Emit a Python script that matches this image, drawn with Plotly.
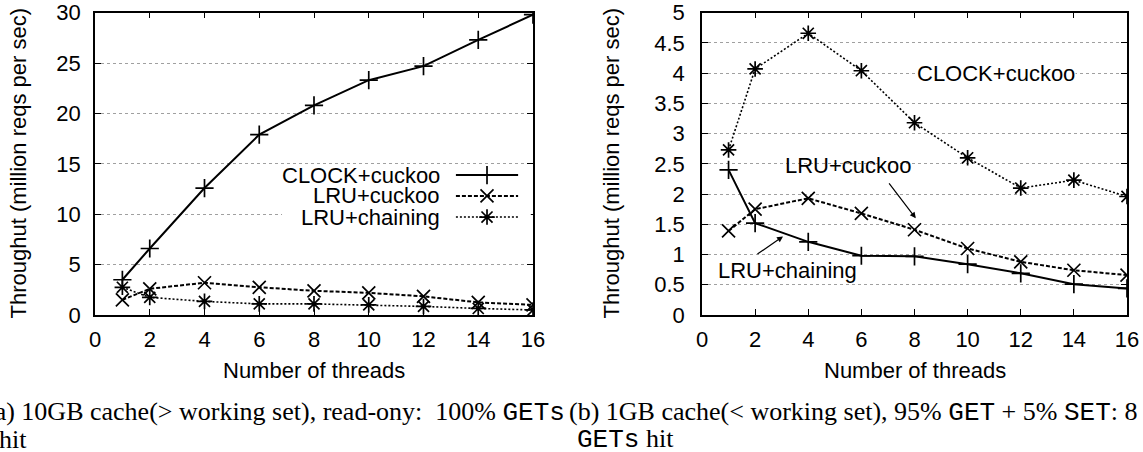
import plotly.graph_objects as go

# ---------------- data ----------------
threads = [1, 2, 4, 6, 8, 10, 12, 14, 16]

# (a) 10GB cache, read-only
a_clock_cuckoo = [3.5, 6.6, 12.6, 17.9, 20.8, 23.3, 24.7, 27.3, 29.8]
a_lru_cuckoo = [1.5, 2.6, 3.2, 2.75, 2.4, 2.2, 1.85, 1.25, 1.0]
a_lru_chaining = [2.75, 1.75, 1.35, 1.1, 1.1, 1.0, 0.85, 0.65, 0.5]

# (b) 1GB cache, 95% GET + 5% SET (series as labelled in the panel)
b_lru_chaining = [2.4, 1.52, 1.21, 0.98, 0.97, 0.84, 0.69, 0.51, 0.44]
b_lru_cuckoo = [1.39, 1.75, 1.93, 1.68, 1.41, 1.10, 0.88, 0.74, 0.66]
b_clock_cuckoo = [2.73, 4.07, 4.66, 4.04, 3.18, 2.60, 2.10, 2.23, 1.96]

x_ticks = [0, 2, 4, 6, 8, 10, 12, 14, 16]
a_y_ticks = [0, 5, 10, 15, 20, 25, 30]
b_y_ticks = [0, 0.5, 1, 1.5, 2, 2.5, 3, 3.5, 4, 4.5, 5]
b_y_ticktext = ["0", "0.5", "1", "1.5", "2", "2.5", "3", "3.5", "4", "4.5", "5"]

legend_names = ["CLOCK+cuckoo", "LRU+cuckoo", "LRU+chaining"]

x_title = "Number of threads"
y_title = "Throughut (million reqs per sec)"

# ---------------- styles ----------------
W, H = 1143, 452
FONT = "Liberation Sans, Arial, sans-serif"
SERIF = "Liberation Serif, Times New Roman, serif"
MONO = "Liberation Mono, Courier New, monospace"
FS = 22
MS = 13

styles = [
    dict(dash="solid", width=2.0, symbol="cross-thin-open"),
    dict(dash="4px,2px", width=2.0, symbol="x-thin-open"),
    dict(dash="2px,2px", width=1.6, symbol="asterisk-open"),
]

def px_x(p):
    return p / W

def px_y(p):
    return (H - p) / H

L_DOM = [px_x(95), px_x(533)]
R_DOM = [px_x(702), px_x(1127)]
Y_DOM = [px_y(315), px_y(12.7)]

fig = go.Figure()

def add_series(xa, ya, y, st):
    fig.add_trace(go.Scatter(
        x=threads, y=y, xaxis=xa, yaxis=ya, mode="lines+markers",
        line=dict(color="black", width=st["width"], dash=st["dash"]),
        marker=dict(symbol=st["symbol"], size=MS, color="black",
                    line=dict(color="black", width=1.7)),
        showlegend=False, hoverinfo="skip"))

add_series("x", "y", a_clock_cuckoo, styles[0])
add_series("x", "y", a_lru_cuckoo, styles[1])
add_series("x", "y", a_lru_chaining, styles[2])

add_series("x2", "y2", b_lru_chaining, styles[0])
add_series("x2", "y2", b_lru_cuckoo, styles[1])
add_series("x2", "y2", b_clock_cuckoo, styles[2])

# gnuplot-style key (text, then sample) drawn on an overlay subplot of panel (a)
# white key box hiding the gridlines
fig.add_trace(go.Scatter(
    x=[0.427, 0.995, 0.995, 0.427, 0.427], y=[0.294, 0.294, 0.49, 0.49, 0.294],
    xaxis="x3", yaxis="y3", mode="lines", fill="toself", fillcolor="white",
    line=dict(width=0, color="white"), showlegend=False, hoverinfo="skip"))

leg_rows = [0.463, 0.394, 0.324]
for i, st in enumerate(styles):
    fig.add_trace(go.Scatter(
        x=[0.824, 0.966], y=[leg_rows[i]] * 2, xaxis="x3", yaxis="y3",
        mode="lines", line=dict(color="black", width=st["width"], dash=st["dash"]),
        showlegend=False, hoverinfo="skip"))
    fig.add_trace(go.Scatter(
        x=[0.895], y=[leg_rows[i]], xaxis="x3", yaxis="y3", mode="markers",
        marker=dict(symbol=st["symbol"], size=MS, color="black",
                    line=dict(color="black", width=1.7)),
        showlegend=False, hoverinfo="skip"))

axis_common = dict(
    showline=True, linecolor="black", linewidth=1.5, mirror="allticks",
    ticks="inside", ticklen=6, tickwidth=1, tickcolor="black",
    tickfont=dict(family=FONT, size=FS, color="black"),
    zeroline=False, automargin=False,
)
grid = dict(showgrid=True, gridcolor="#a0a0a0", gridwidth=1, griddash="dot")

fig.update_layout(
    width=W, height=H,
    margin=dict(l=0, r=0, t=0, b=0),
    paper_bgcolor="white", plot_bgcolor="rgba(0,0,0,0)",
    showlegend=False,
    xaxis=dict(domain=L_DOM, anchor="y", range=[0, 16], tickvals=x_ticks,
               showgrid=False, ticklabelstandoff=4, **axis_common),
    yaxis=dict(domain=Y_DOM, anchor="x", range=[0, 30], tickvals=a_y_ticks,
               ticklabelstandoff=8, **grid, **axis_common),
    xaxis2=dict(domain=R_DOM, anchor="y2", range=[0, 16], tickvals=x_ticks,
                showgrid=False, ticklabelstandoff=4, **axis_common),
    yaxis2=dict(domain=Y_DOM, anchor="x2", range=[0, 5], tickvals=b_y_ticks,
                ticktext=b_y_ticktext, ticklabelstandoff=11, **grid, **axis_common),
    xaxis3=dict(domain=L_DOM, anchor="y3", range=[0, 1], visible=False,
                fixedrange=True),
    yaxis3=dict(domain=Y_DOM, anchor="x3", range=[0, 1], visible=False,
                fixedrange=True),
)

for i, name in enumerate(legend_names):
    fig.add_annotation(xref="x3", yref="y3", x=0.792, y=leg_rows[i],
                       text=name, showarrow=False, xanchor="right",
                       yanchor="middle",
                       font=dict(family=FONT, size=FS, color="black"))

# right panel labels and arrows
fig.add_annotation(xref="x2", yref="y2", x=8.05, y=4.0, text="CLOCK+cuckoo",
                   showarrow=False, xanchor="left", yanchor="middle",
                   bgcolor="white", borderpad=0,
                   font=dict(family=FONT, size=FS, color="black"))
fig.add_annotation(xref="x2", yref="y2", x=3.05, y=2.48, text="LRU+cuckoo",
                   showarrow=False, xanchor="left", yanchor="middle",
                   font=dict(family=FONT, size=FS, color="black"))
fig.add_annotation(xref="x2", yref="y2", x=0.53, y=0.73, text="LRU+chaining",
                   showarrow=False, xanchor="left", yanchor="middle",
                   font=dict(family=FONT, size=FS, color="black"))
fig.add_annotation(xref="x2", yref="y2", x=8.05, y=1.6, ax=7.0, ay=2.2,
                   axref="x2", ayref="y2", text="", showarrow=True,
                   arrowhead=2, arrowsize=1, arrowwidth=1.2, arrowcolor="black")
fig.add_annotation(xref="x2", yref="y2", x=3.05, y=1.3, ax=2.03, ay=0.99,
                   axref="x2", ayref="y2", text="", showarrow=True,
                   arrowhead=2, arrowsize=1, arrowwidth=1.2, arrowcolor="black")

# axis titles
for cx in [314, 914.5]:
    fig.add_annotation(xref="paper", yref="paper", x=px_x(cx), y=px_y(370),
                       text=x_title, showarrow=False, xanchor="center",
                       yanchor="middle", font=dict(family=FONT, size=FS, color="black"))
for cx in [18, 611]:
    fig.add_annotation(xref="paper", yref="paper", x=px_x(cx), y=px_y(163.5),
                       text=y_title, showarrow=False, textangle=-90,
                       xanchor="center", yanchor="middle",
                       font=dict(family=FONT, size=FS, color="black"))

# captions
def tt(s):
    return f"<span style=\"font-family:{MONO}\">{s}</span>"

CFS = 26
fig.add_annotation(xref="paper", yref="paper", x=px_x(567), y=px_y(412),
                   text="(a) 10GB cache(&gt; working set), read-ony:  100% " + tt("GETs"),
                   showarrow=False, xanchor="right", yanchor="middle",
                   font=dict(family=SERIF, size=CFS, color="black"))
fig.add_annotation(xref="paper", yref="paper", x=px_x(567), y=px_y(412),
                   text="(b) 1GB cache(&lt; working set), 95% " + tt("GET") + " + 5% " + tt("SET") + ": 8",
                   showarrow=False, xanchor="left", yanchor="middle",
                   font=dict(family=SERIF, size=CFS, color="black"))
fig.add_annotation(xref="paper", yref="paper", x=px_x(-3), y=px_y(439),
                   text="hit", showarrow=False, xanchor="left", yanchor="middle",
                   font=dict(family=SERIF, size=CFS, color="black"))
fig.add_annotation(xref="paper", yref="paper", x=px_x(625), y=px_y(439),
                   text=tt("GETs") + " hit", showarrow=False, xanchor="center",
                   yanchor="middle", font=dict(family=SERIF, size=CFS, color="black"))

fig.write_html("out.html", config={"displayModeBar": False},
               post_script="document.body.style.margin='0px';")
